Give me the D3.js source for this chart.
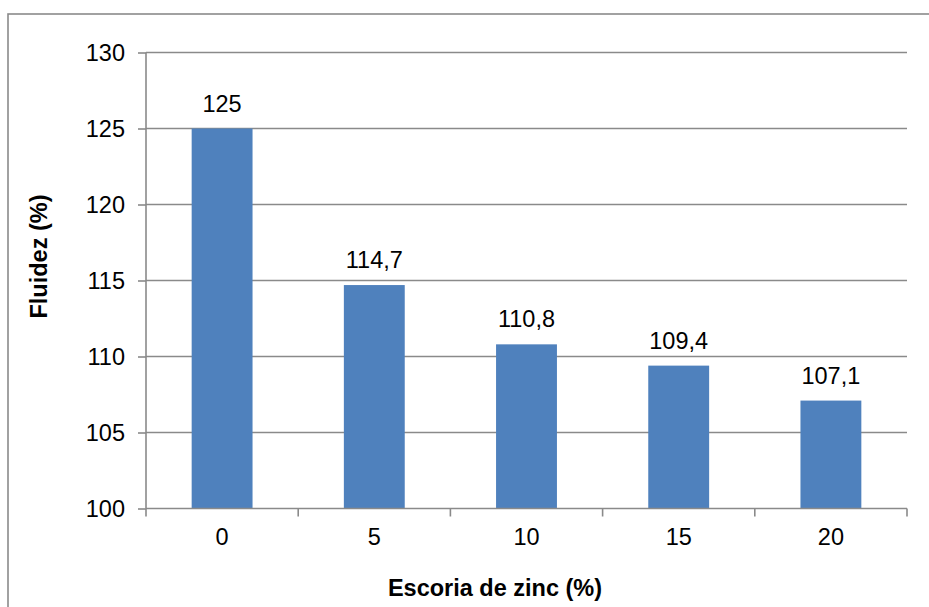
<!DOCTYPE html>
<html>
<head>
<meta charset="utf-8">
<script src="https://cdn.jsdelivr.net/npm/d3@7"></script>
<style>
  html, body { margin: 0; padding: 0; background: #fff; }
  svg { display: block; }
  text { font-family: "Liberation Sans", Arial, sans-serif; fill: #000; }
</style>
</head>
<body>
<svg id="chart" width="929" height="607"></svg>
<script>
// Fluidez vs. contenido de escoria de zinc
const categories = ["0", "5", "10", "15", "20"];
const values = [125, 114.7, 110.8, 109.4, 107.1];
const valueLabels = ["125", "114,7", "110,8", "109,4", "107,1"];
const yTicks = [100, 105, 110, 115, 120, 125, 130];
const xTitle = "Escoria de zinc (%)";
const yTitle = "Fluidez (%)";

const W = 929, H = 607;
const plot = { left: 146, right: 907, top: 52.5, bottom: 508.5 };
const gridColor = "#8a8a8a";
const barColor = "#4f81bd";
const numSize = 23.5;
const titleSize = 23.5;

const svg = d3.select("#chart");

// chart frame
svg.append("rect")
  .attr("x", 8).attr("y", 14)
  .attr("width", W + 20).attr("height", H + 20)
  .attr("fill", "none").attr("stroke", gridColor).attr("stroke-width", 1.6);

const x = d3.scaleBand()
  .domain(categories)
  .range([plot.left, plot.right])
  .paddingInner(0.6).paddingOuter(0.3);

const y = d3.scaleLinear()
  .domain([100, 130])
  .range([plot.bottom, plot.top]);

// horizontal gridlines
svg.append("g")
  .selectAll("line")
  .data(yTicks.filter(t => t > 100))
  .join("line")
  .attr("x1", plot.left).attr("x2", plot.right)
  .attr("y1", d => y(d)).attr("y2", d => y(d))
  .attr("stroke", gridColor).attr("stroke-width", 1.6);

// bars
svg.append("g")
  .selectAll("rect")
  .data(values)
  .join("rect")
  .attr("x", (d, i) => x(categories[i]))
  .attr("width", x.bandwidth())
  .attr("y", d => y(d))
  .attr("height", d => y(100) - y(d))
  .attr("fill", barColor);

// value labels
svg.append("g")
  .selectAll("text")
  .data(values)
  .join("text")
  .attr("x", (d, i) => x(categories[i]) + x.bandwidth() / 2)
  .attr("y", d => y(d) - 17)
  .attr("text-anchor", "middle")
  .attr("font-size", numSize)
  .text((d, i) => valueLabels[i]);

// y axis
const yAxis = d3.axisLeft(y).tickValues(yTicks).tickSize(8).tickPadding(13).tickFormat(d3.format("d"));
const gy = svg.append("g").attr("transform", `translate(${plot.left},0)`).call(yAxis);
gy.select(".domain").attr("stroke", gridColor).attr("stroke-width", 1.6)
  .attr("d", `M0,${plot.top}V${plot.bottom}`);
gy.selectAll(".tick line").attr("stroke", gridColor).attr("stroke-width", 1.6);
gy.selectAll(".tick text").attr("font-size", numSize).attr("font-family", "Liberation Sans, Arial, sans-serif").attr("fill", "#000");

// x axis with ticks on category boundaries
const gx = svg.append("g").attr("transform", `translate(0,${plot.bottom})`);
gx.append("line")
  .attr("x1", plot.left).attr("x2", plot.right)
  .attr("stroke", gridColor).attr("stroke-width", 1.6);
const bounds = d3.range(categories.length + 1).map(i => plot.left + i * (plot.right - plot.left) / categories.length);
gx.selectAll("line.tk")
  .data(bounds)
  .join("line").attr("class", "tk")
  .attr("x1", d => d).attr("x2", d => d)
  .attr("y1", 0).attr("y2", 8)
  .attr("stroke", gridColor).attr("stroke-width", 1.6);
gx.selectAll("text")
  .data(categories)
  .join("text")
  .attr("x", d => x(d) + x.bandwidth() / 2)
  .attr("y", 36.5)
  .attr("text-anchor", "middle")
  .attr("font-size", numSize)
  .text(d => d);

// axis titles
svg.append("text")
  .attr("x", 495)
  .attr("y", 596)
  .attr("text-anchor", "middle")
  .attr("font-size", titleSize).attr("font-weight", "bold")
  .text(xTitle);

svg.append("text")
  .attr("transform", `translate(47,256.5) rotate(-90)`)
  .attr("text-anchor", "middle")
  .attr("font-size", titleSize).attr("font-weight", "bold")
  .text(yTitle);
</script>
</body>
</html>
